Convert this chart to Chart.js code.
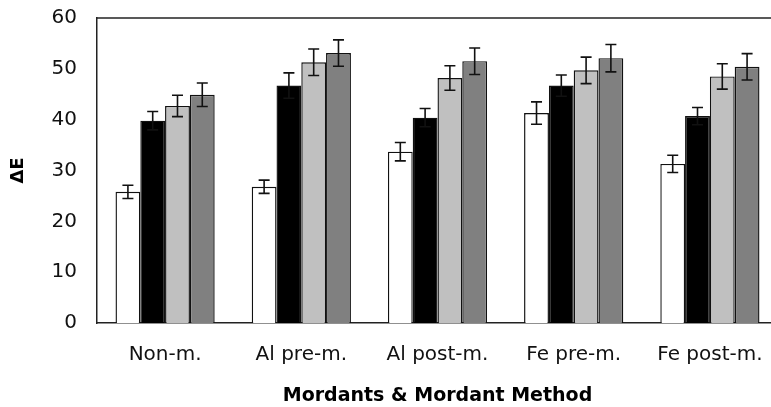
<!DOCTYPE html>
<html>
<head>
<meta charset="utf-8">
<script src="https://cdn.jsdelivr.net/npm/chart.js@4/dist/chart.umd.min.js"></script>
<style>
  html, body { margin: 0; padding: 0; background: #fff; overflow: hidden; }
  #wrap { width: 790px; height: 407px; }
</style>
</head>
<body>
<div id="wrap"><canvas id="myChart" width="790" height="407"></canvas></div>
<script>
// categories (mordant & method)
var categories = ["Non-m.", "Al pre-m.", "Al post-m.", "Fe pre-m.", "Fe post-m."];

// delta E values, 4 series per group
var s1 = [25.8, 26.8, 33.7, 41.3, 31.3];
var s2 = [39.8, 46.7, 40.4, 46.7, 40.7];
var s3 = [42.7, 51.3, 48.2, 49.7, 48.5];
var s4 = [44.9, 53.1, 51.5, 52.1, 50.4];

// error bars (+/-)
var e1 = [1.3, 1.3, 1.8, 2.2, 1.7];
var e2 = [1.8, 2.5, 1.8, 2.1, 1.7];
var e3 = [2.1, 2.6, 2.4, 2.6, 2.5];
var e4 = [2.3, 2.6, 2.6, 2.7, 2.6];

var yTicks = [0, 10, 20, 30, 40, 50, 60];

var errs = [e1, e2, e3, e4];
var lineCol = "#222";

// error bars + top frame line
var errorBars = {
  id: "errorBars",
  afterDatasetsDraw: function(chart) {
    var ctx = chart.ctx;
    var y = chart.scales.y;
    ctx.save();
    ctx.strokeStyle = "#111";
    ctx.lineWidth = 1.6;
    chart.data.datasets.forEach(function(ds, di) {
      var meta = chart.getDatasetMeta(di);
      meta.data.forEach(function(bar, i) {
        var v = ds.data[i], e = errs[di][i];
        var top = y.getPixelForValue(v + e);
        var bot = y.getPixelForValue(v - e);
        var x = bar.x, w = 5.5;
        ctx.beginPath();
        ctx.moveTo(x, top); ctx.lineTo(x, bot);
        ctx.moveTo(x - w, top); ctx.lineTo(x + w, top);
        ctx.moveTo(x - w, bot); ctx.lineTo(x + w, bot);
        ctx.stroke();
      });
    });
    // frame top line
    var a = chart.chartArea;
    ctx.strokeStyle = lineCol;
    ctx.lineWidth = 1.5;
    ctx.beginPath();
    ctx.moveTo(a.left, a.top);
    ctx.lineTo(a.right, a.top);
    ctx.stroke();
    ctx.restore();
  }
};

var ctx = document.getElementById("myChart").getContext("2d");
var myChart = new Chart(ctx, {
  type: "bar",
  data: {
    labels: categories,
    datasets: [
      { data: s1, backgroundColor: "#ffffff" },
      { data: s2, backgroundColor: "#000000" },
      { data: s3, backgroundColor: "#c0c0c0" },
      { data: s4, backgroundColor: "#808080" }
    ]
  },
  options: {
    responsive: false,
    animation: false,
    layout: { padding: { left: 4, right: 12, top: 18, bottom: 0 } },
    datasets: {
      bar: {
        borderColor: "#111",
        borderWidth: 1.4,
        barPercentage: 1,
        categoryPercentage: 0.728
      }
    },
    plugins: {
      legend: { display: false },
      tooltip: { enabled: false }
    },
    scales: {
      x: {
        afterFit: function(axis) {
          axis.height = 84;
          axis.paddingLeft = 0;
          axis.paddingRight = 0;
        },
        grid: { display: false, drawTicks: false },
        border: { display: true, color: lineCol, width: 1.5 },
        ticks: {
          color: "#111",
          padding: 20,
          maxRotation: 0,
          font: { family: "DejaVu Sans", size: 20 }
        },
        title: {
          display: true,
          text: "Mordants & Mordant Method",
          color: "#000",
          padding: { top: 17, bottom: 0 },
          font: { family: "DejaVu Sans", size: 19, weight: "bold" }
        }
      },
      y: {
        min: 0,
        max: 60,
        afterFit: function(axis) {
          axis.width = 93;
          axis.paddingTop = 0;
          axis.paddingBottom = 0;
        },
        afterBuildTicks: function(axis) {
          axis.ticks = yTicks.map(function(v) { return { value: v }; });
        },
        grid: { display: false, drawTicks: false },
        border: { display: true, color: lineCol, width: 1.5 },
        ticks: {
          color: "#111",
          padding: 20,
          font: { family: "DejaVu Sans", size: 20 }
        },
        title: {
          display: true,
          text: "ΔE",
          color: "#000",
          padding: { top: 4, bottom: 20 },
          font: { family: "DejaVu Sans", size: 18, weight: "bold" }
        }
      }
    }
  },
  plugins: [errorBars]
});
</script>
</body>
</html>
